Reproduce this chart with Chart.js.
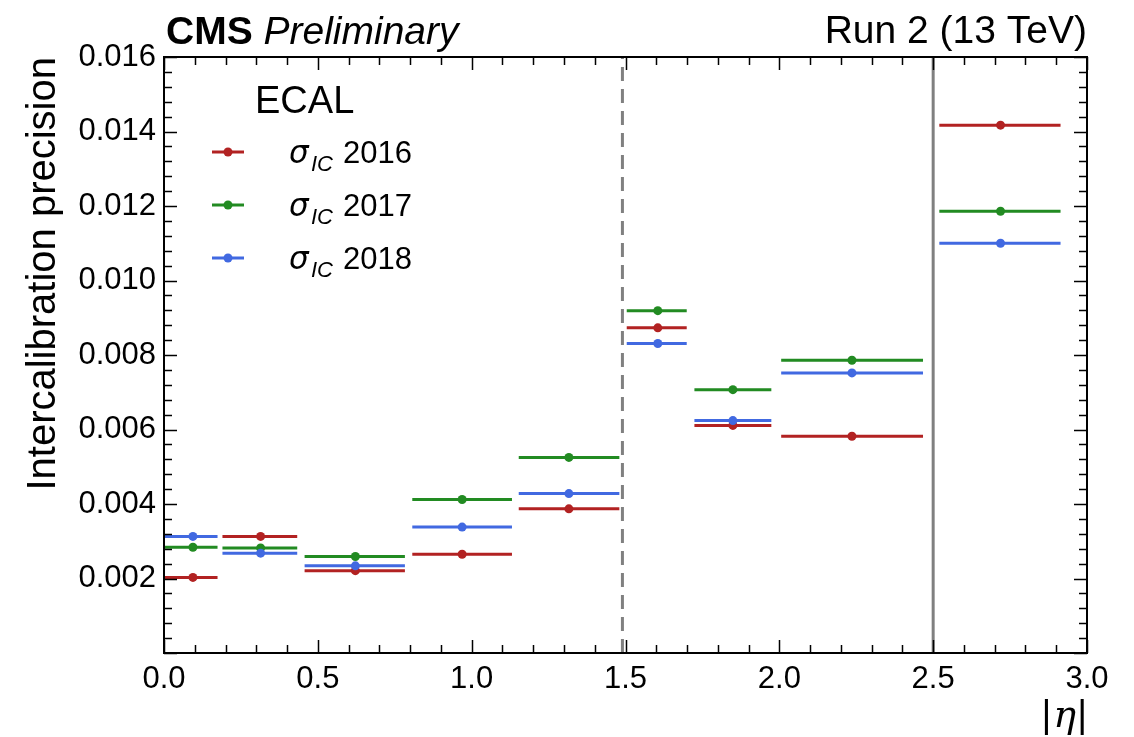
<!DOCTYPE html>
<html lang="en">
<head>
<meta charset="UTF-8">
<title>ECAL intercalibration precision</title>
<script src="https://cdn.jsdelivr.net/npm/chart.js@4.4.0/dist/chart.umd.min.js"></script>
<style>
  body { margin: 0; background: #fff; }
  #wrap { width: 1134px; height: 737px; }
</style>
</head>
<body>
<div id="wrap"><canvas id="canvas" width="1134" height="737"></canvas></div>
<script>
// |eta| bins (low edge, high edge, marker position)
const binLow    = [0.000, 0.190, 0.457, 0.807, 1.153, 1.504, 1.724, 2.006, 2.520];
const binHigh   = [0.174, 0.433, 0.783, 1.131, 1.480, 1.699, 1.974, 2.467, 2.914];
const binCenter = [0.094, 0.314, 0.622, 0.969, 1.316, 1.605, 1.849, 2.236, 2.719];

// intercalibration precision per year
const sigma2016 = [0.00203, 0.00313, 0.00221, 0.00265, 0.00387, 0.00873, 0.00611, 0.00582, 0.01417];
const sigma2017 = [0.00284, 0.00282, 0.00259, 0.00412, 0.00525, 0.00919, 0.00707, 0.00786, 0.01186];
const sigma2018 = [0.00313, 0.00268, 0.00234, 0.00338, 0.00428, 0.00831, 0.00624, 0.00752, 0.01100];

const years = ['2016', '2017', '2018'];
const colors = ['#b22222', '#228b22', '#4169e1'];

// barrel / endcap boundaries
const dashedEta = 1.49;
const solidEta = 2.5;

Chart.defaults.font.family = "'Liberation Sans', Arial, sans-serif";
Chart.defaults.color = '#000';

function segments(vals) {
  let pts = [];
  for (let i = 0; i < vals.length; i++) {
    pts.push({x: binLow[i], y: vals[i]});
    pts.push({x: binHigh[i], y: vals[i]});
    pts.push({x: binHigh[i], y: null});
  }
  return pts;
}

function markers(vals) {
  return binCenter.map((x, i) => ({x: x, y: vals[i]}));
}

let datasets = [];
[sigma2016, sigma2017, sigma2018].forEach((vals, i) => {
  datasets.push({
    label: 'sigma ' + years[i],
    data: segments(vals),
    borderColor: colors[i],
    borderWidth: 3,
    pointRadius: 0,
    spanGaps: false,
    order: 3 - i
  });
  datasets.push({
    label: 'sigma ' + years[i] + ' pts',
    data: markers(vals),
    showLine: false,
    pointRadius: 4.5,
    pointBackgroundColor: colors[i],
    pointBorderWidth: 0,
    order: 3 - i
  });
});
datasets.push({
  data: [{x: dashedEta, y: 0}, {x: dashedEta, y: 0.016}],
  borderColor: '#808080', borderWidth: 3, borderDash: [14, 8], pointRadius: 0, order: 5
});
datasets.push({
  data: [{x: solidEta, y: 0}, {x: solidEta, y: 0.016}],
  borderColor: '#808080', borderWidth: 3, pointRadius: 0, order: 5
});

const hepStyle = {
  id: 'hepStyle',
  afterDraw(chart) {
    const ctx = chart.ctx;
    const a = chart.chartArea;
    const xs = chart.scales.x, ys = chart.scales.y;
    ctx.save();
    ctx.strokeStyle = '#000';
    ctx.lineWidth = 1.5;
    ctx.beginPath();
    for (let k = 0; k <= 30; k++) {
      const px = Math.round(xs.getPixelForValue(k / 10)) + 0.5;
      const len = k % 5 === 0 ? 13 : 8;
      ctx.moveTo(px, a.bottom); ctx.lineTo(px, a.bottom - len);
      ctx.moveTo(px, a.top); ctx.lineTo(px, a.top + len);
    }
    for (let k = 0; k <= 40; k++) {
      const py = Math.round(ys.getPixelForValue(k * 0.0004)) + 0.5;
      const len = k % 5 === 0 ? 13 : 8;
      ctx.moveTo(a.left, py); ctx.lineTo(a.left + len, py);
      ctx.moveTo(a.right, py); ctx.lineTo(a.right - len, py);
    }
    ctx.stroke();
    ctx.lineWidth = 2;
    ctx.strokeRect(a.left, a.top, a.width, a.height);

    // header
    ctx.fillStyle = '#000';
    ctx.textBaseline = 'alphabetic';
    ctx.textAlign = 'left';
    ctx.font = "bold 39px 'Liberation Sans', Arial, sans-serif";
    ctx.fillText('CMS', a.left + 2, 44);
    const w = ctx.measureText('CMS ').width;
    ctx.font = "italic 39px 'Liberation Sans', Arial, sans-serif";
    ctx.fillText('Preliminary', a.left + 2 + w, 44);
    ctx.textAlign = 'right';
    ctx.font = "39px 'Liberation Sans', Arial, sans-serif";
    ctx.fillText('Run 2 (13 TeV)', a.right, 43);

    // x axis title |eta|
    ctx.font = "38px 'Liberation Sans', Arial, sans-serif";
    const bar = ctx.measureText('|').width;
    ctx.fillText('|', a.right, 727);
    ctx.font = "italic 38px 'DejaVu Serif', serif";
    const etaW = ctx.measureText('\u03B7').width;
    ctx.fillText('\u03B7', a.right - bar - 1, 727);
    ctx.font = "38px 'Liberation Sans', Arial, sans-serif";
    ctx.fillText('|', a.right - bar - etaW - 3, 727);

    // legend
    ctx.textAlign = 'left';
    ctx.font = "38px 'Liberation Sans', Arial, sans-serif";
    ctx.fillText('ECAL', 255, 113);
    for (let i = 0; i < years.length; i++) {
      const ly = 152 + i * 53;
      ctx.strokeStyle = colors[i];
      ctx.lineWidth = 3;
      ctx.beginPath(); ctx.moveTo(212, ly); ctx.lineTo(244, ly); ctx.stroke();
      ctx.fillStyle = colors[i];
      ctx.beginPath(); ctx.arc(228, ly, 4.5, 0, Math.PI * 2); ctx.fill();
      ctx.fillStyle = '#000';
      ctx.font = "italic 31px 'DejaVu Sans', sans-serif";
      ctx.fillText('\u03C3', 289, ly + 11);
      ctx.font = "italic 22px 'Liberation Sans', Arial, sans-serif";
      ctx.fillText('IC', 311, ly + 19);
      ctx.font = "31px 'Liberation Sans', Arial, sans-serif";
      ctx.fillText(years[i], 343, ly + 11);
    }
    ctx.restore();
  }
};

new Chart(document.getElementById('canvas'), {
  type: 'line',
  data: { datasets: datasets },
  options: {
    responsive: false,
    animation: false,
    devicePixelRatio: 1,
    layout: { padding: { left: 0, right: 47, top: 57, bottom: 0 } },
    plugins: { legend: { display: false }, tooltip: { enabled: false } },
    scales: {
      x: {
        type: 'linear', min: 0, max: 3,
        grid: { display: false, drawTicks: false },
        border: { display: true, color: '#000', width: 2 },
        ticks: { stepSize: 0.5, padding: 8, font: { size: 31 }, color: '#000',
          callback: v => v.toFixed(1) },
        afterFit: s => { s.height = 84; }
      },
      y: {
        type: 'linear', min: 0, max: 0.016,
        grid: { display: false, drawTicks: false },
        border: { display: true, color: '#000', width: 2 },
        ticks: { stepSize: 0.002, padding: 8, font: { size: 31 }, color: '#000',
          callback: v => (Math.abs(v) < 1e-9 ? '' : v.toFixed(3)) },
        title: { display: true, text: 'Intercalibration precision', align: 'end',
          font: { size: 40 }, color: '#000', padding: { top: 20, bottom: 0 } },
        afterFit: s => { s.width = 164; }
      }
    }
  },
  plugins: [hepStyle]
});
</script>
</body>
</html>
